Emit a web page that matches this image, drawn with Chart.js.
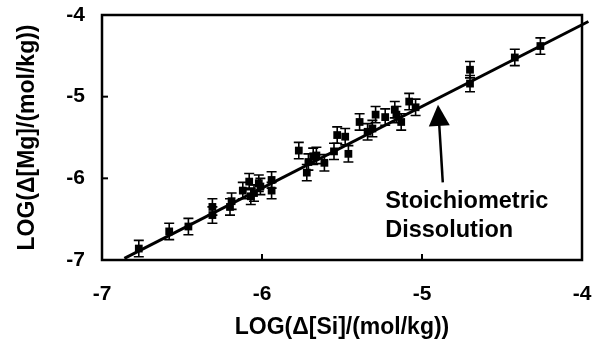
<!DOCTYPE html>
<html>
<head>
<meta charset="utf-8">
<script src="https://cdn.jsdelivr.net/npm/chart.js@4.4.1/dist/chart.umd.min.js"></script>
<style>
  html, body { margin: 0; padding: 0; background: #fff; }
  #wrap { width: 605px; height: 345px; }
</style>
</head>
<body>
<div id="wrap"><canvas id="mgSiChart"></canvas></div>
<script>
// measured points, log10 of concentration change (mol/kg)
var logSi = [-6.77, -6.58, -6.46, -6.31, -6.31, -6.20, -6.19, -6.12, -6.08, -6.07,
             -6.05, -6.02, -6.01, -5.94, -5.94, -5.77, -5.72, -5.71, -5.68, -5.66,
             -5.61, -5.55, -5.53, -5.48, -5.46, -5.39, -5.34, -5.31, -5.29, -5.23,
             -5.17, -5.16, -5.13, -5.08, -5.04, -4.70, -4.70, -4.42, -4.26];
var logMg = [-6.86, -6.65, -6.59, -6.35, -6.45, -6.35, -6.28, -6.15, -6.04, -6.22,
             -6.18, -6.06, -6.10, -6.02, -6.15, -5.66, -5.93, -5.80, -5.73, -5.72,
             -5.81, -5.67, -5.47, -5.49, -5.70, -5.31, -5.43, -5.39, -5.22, -5.25,
             -5.16, -5.22, -5.31, -5.06, -5.13, -4.67, -4.84, -4.52, -4.38];
var logMgErr = [0.1, 0.1, 0.1, 0.1, 0.1, 0.1, 0.1, 0.1, 0.1, 0.1,
                0.1, 0.1, 0.1, 0.1, 0.1, 0.1, 0.1, 0.1, 0.1, 0.1,
                0.1, 0.1, 0.1, 0.1, 0.1, 0.1, 0.1, 0.1, 0.1, 0.1,
                0.1, 0.1, 0.1, 0.1, 0.1, 0.1, 0.1, 0.1, 0.1];

// stoichiometric dissolution line
var lineSi = [-6.86, -3.96];
var lineMg = [-6.98, -4.08];

var axisTicks = [-7, -6, -5, -4];
var noteLines = ["Stoichiometric", "Dissolution"];
var noteAt = { x: -5.23, y: [-6.28, -6.64] };
var arrowFrom = { x: -4.87, y: -6.05 };
var arrowTo = { x: -4.90, y: -5.10 };

var points = logSi.map(function(v, i) { return { x: v, y: logMg[i], err: logMgErr[i] }; });
var linePts = lineSi.map(function(v, i) { return { x: v, y: lineMg[i] }; });

var frameAndBars = {
  id: 'frameAndBars',
  afterDatasetsDraw: function(chart) {
    var ctx = chart.ctx, a = chart.chartArea;
    var xs = chart.scales.x, ys = chart.scales.y;
    ctx.save();
    ctx.strokeStyle = '#000';
    ctx.fillStyle = '#000';
    // error bars
    ctx.lineWidth = 1.6;
    points.forEach(function(p) {
      var px = xs.getPixelForValue(p.x);
      var top = ys.getPixelForValue(p.y + p.err);
      var bot = ys.getPixelForValue(p.y - p.err);
      ctx.beginPath();
      ctx.moveTo(px, top); ctx.lineTo(px, bot);
      ctx.moveTo(px - 5, top); ctx.lineTo(px + 5, top);
      ctx.moveTo(px - 5, bot); ctx.lineTo(px + 5, bot);
      ctx.stroke();
    });
    // frame
    ctx.lineWidth = 2.5;
    ctx.strokeRect(a.left, a.top, a.right - a.left, a.bottom - a.top);
    // inward tick marks
    ctx.lineWidth = 2;
    axisTicks.slice(1, 3).forEach(function(t) {
      var py = ys.getPixelForValue(t);
      ctx.beginPath(); ctx.moveTo(a.left, py); ctx.lineTo(a.left + 6, py); ctx.stroke();
      var px = xs.getPixelForValue(t);
      ctx.beginPath(); ctx.moveTo(px, a.bottom); ctx.lineTo(px, a.bottom - 6); ctx.stroke();
    });
    // arrow
    var x0 = xs.getPixelForValue(arrowFrom.x), y0 = ys.getPixelForValue(arrowFrom.y);
    var x1 = xs.getPixelForValue(arrowTo.x), y1 = ys.getPixelForValue(arrowTo.y);
    var ang = Math.atan2(y1 - y0, x1 - x0);
    ctx.lineWidth = 2.5;
    ctx.beginPath(); ctx.moveTo(x0, y0);
    ctx.lineTo(x1 - 18 * Math.cos(ang), y1 - 18 * Math.sin(ang)); ctx.stroke();
    ctx.beginPath();
    ctx.moveTo(x1, y1);
    ctx.lineTo(x1 - 21 * Math.cos(ang) + 10.5 * Math.sin(ang), y1 - 21 * Math.sin(ang) - 10.5 * Math.cos(ang));
    ctx.lineTo(x1 - 21 * Math.cos(ang) - 10.5 * Math.sin(ang), y1 - 21 * Math.sin(ang) + 10.5 * Math.cos(ang));
    ctx.closePath(); ctx.fill();
    // annotation text
    ctx.font = 'bold 23.5px "Liberation Sans", Arial, sans-serif';
    ctx.textAlign = 'left';
    ctx.textBaseline = 'middle';
    noteLines.forEach(function(s, i) {
      ctx.fillText(s, xs.getPixelForValue(noteAt.x), ys.getPixelForValue(noteAt.y[i]));
    });
    ctx.restore();
  }
};

var tickFont = { family: '"Liberation Sans", Arial, sans-serif', size: 21, weight: 'bold' };
var titleFont = { family: '"Liberation Sans", Arial, sans-serif', size: 23, weight: 'bold' };

new Chart(document.getElementById('mgSiChart').getContext('2d'), {
  type: 'scatter',
  data: {
    datasets: [{
      type: 'line',
      data: linePts,
      borderColor: '#000',
      borderWidth: 3,
      pointRadius: 0,
      clip: false,
      order: 2
    }, {
      data: points,
      pointStyle: 'rect',
      pointRadius: 5.5,
      backgroundColor: '#000',
      borderColor: '#000',
      borderWidth: 0,
      order: 1
    }]
  },
  options: {
    responsive: true,
    maintainAspectRatio: false,
    animation: false,
    layout: { padding: { top: 15, right: 23, left: 0, bottom: 0 } },
    plugins: { legend: { display: false }, tooltip: { enabled: false } },
    scales: {
      x: {
        min: -7, max: -4,
        afterFit: function(s) { s.height = 85; s.paddingLeft = 0; s.paddingRight = 0; },
        grid: { display: false, drawTicks: false },
        border: { display: false },
        ticks: { stepSize: 1, color: '#000', font: tickFont, padding: 22, maxRotation: 0 },
        title: { display: true, text: 'LOG(\u0394[Si]/(mol/kg))', color: '#000', font: titleFont, padding: { top: 0, bottom: 4 } }
      },
      y: {
        min: -7, max: -4,
        afterFit: function(s) { s.width = 102; s.paddingTop = 0; s.paddingBottom = 0; },
        grid: { display: false, drawTicks: false },
        border: { display: false },
        ticks: { stepSize: 1, color: '#000', font: tickFont, padding: 17 },
        title: { display: true, text: 'LOG(\u0394[Mg]/(mol/kg))', color: '#000', font: titleFont, padding: { top: 14, bottom: 0 } }
      }
    }
  },
  plugins: [frameAndBars]
});
</script>
</body>
</html>
